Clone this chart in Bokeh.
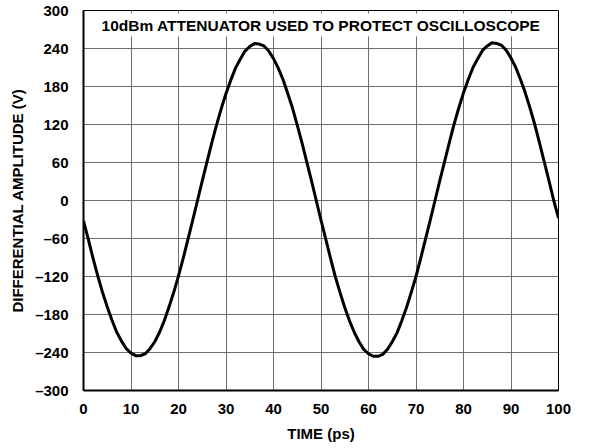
from bokeh.plotting import figure
from bokeh.models import Range1d, FixedTicker, Label
from bokeh.embed import file_html
from bokeh.resources import INLINE

time_ps = list(range(0, 101))
amplitude_v = [
    -32, -61, -91, -119, -145, -168, -189, -208, -222, -234,
    -241, -245, -245, -242, -234, -223, -208, -190, -168, -145,
    -119, -91, -61, -31, 0, 31, 61, 91, 119, 145,
    169, 190, 209, 223, 236, 243, 248, 247, 244, 236,
    224, 209, 191, 169, 146, 119, 91, 61, 31, 0,
    -31, -61, -91, -120, -145, -169, -190, -208, -223, -235,
    -242, -246, -246, -243, -235, -223, -209, -190, -169, -145,
    -120, -91, -61, -31, 0, 31, 61, 91, 120, 146,
    170, 191, 210, 224, 237, 244, 249, 248, 245, 237,
    225, 210, 191, 170, 146, 120, 91, 61, 31, 0,
    -28,
]

x_ticks = [0, 10, 20, 30, 40, 50, 60, 70, 80, 90, 100]
y_ticks = [-300, -240, -180, -120, -60, 0, 60, 120, 180, 240, 300]
y_tick_labels = ["\u2013300", "\u2013240", "\u2013180", "\u2013120", "\u201360", "0",
                 "60", "120", "180", "240", "300"]
title_text = "10dBm ATTENUATOR USED TO PROTECT OSCILLOSCOPE"
x_label = "TIME (ps)"
y_label = "DIFFERENTIAL AMPLITUDE (V)"
figure_code = "040"

FONT = "Liberation Sans"

p = figure(width=600, height=446, output_backend="svg", toolbar_location=None,
           x_range=Range1d(0, 100), y_range=Range1d(-300, 300),
           min_border_left=83, min_border_right=42, min_border_top=10, min_border_bottom=56)

p.outline_line_color = "black"
p.outline_line_width = 1

for ax, ticks in ((p.xaxis[0], x_ticks), (p.yaxis[0], y_ticks)):
    ax.ticker = FixedTicker(ticks=ticks)
    ax.major_tick_in = 0
    ax.major_tick_out = 0
    ax.minor_tick_in = 0
    ax.minor_tick_out = 0
    ax.axis_line_width = 2
    ax.axis_line_color = "black"
    ax.major_label_text_font = FONT
    ax.major_label_text_font_style = "bold"
    ax.major_label_text_font_size = "15px"
    ax.major_label_text_color = "black"
    ax.axis_label_text_font = FONT
    ax.axis_label_text_font_style = "bold"
    ax.axis_label_text_font_size = "15px"
    ax.axis_label_text_color = "black"

p.yaxis[0].major_label_overrides = {t: s for t, s in zip(y_ticks, y_tick_labels)}
p.xaxis[0].axis_label = x_label
p.yaxis[0].axis_label = y_label
p.xaxis[0].major_label_standoff = 13
p.xaxis[0].axis_label_standoff = 8
p.yaxis[0].major_label_standoff = 15
p.yaxis[0].axis_label_standoff = 6

for g in (p.xgrid[0], p.ygrid[0]):
    g.grid_line_color = "#6e6e6e"
    g.grid_line_width = 1
p.xgrid[0].ticker = FixedTicker(ticks=x_ticks)
p.ygrid[0].ticker = FixedTicker(ticks=y_ticks)

p.line(time_ps, amplitude_v, line_color="black", line_width=3, line_join="round")

p.add_layout(Label(x=50, y=277, text=title_text, text_align="center", text_baseline="middle",
                   text_font=FONT, text_font_style="bold", text_font_size="15.5px",
                   text_color="black", background_fill_color="white",
                   background_fill_alpha=1.0, padding=3))

p.add_layout(Label(x=107.5, y=-370, text=figure_code, angle=1.5708, text_align="center",
                   text_baseline="middle", text_font=FONT, text_font_size="9px",
                   text_color="#444444"))

open("out.html", "w").write(file_html(p, INLINE))
